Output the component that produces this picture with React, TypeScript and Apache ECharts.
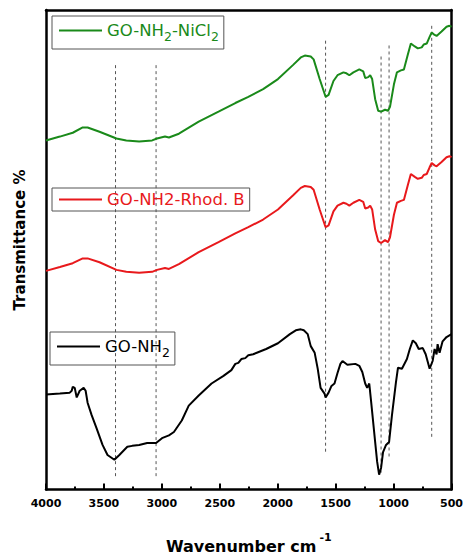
import React, { useEffect, useRef } from "react";
import * as echarts from "echarts";

// Wavenumbers (cm-1) sampled for the two upper spectra
const wnUpper = [4000, 3880, 3769, 3683, 3641, 3538, 3392, 3307, 3196, 3084, 3042, 2973, 2939, 2853, 2682, 2511, 2366, 2254, 2126, 1998, 1869, 1801, 1766, 1715, 1690, 1638, 1587, 1561, 1519, 1484, 1433, 1407, 1382, 1347, 1296, 1262, 1245, 1219, 1202, 1185, 1159, 1133, 1108, 1074, 1048, 1031, 997, 971, 937, 911, 877, 851, 817, 791, 757, 740, 714, 689, 671, 646, 629, 586, 543, 518, 500];
const tNiCl2 = [72.8, 73.6, 74.4, 75.5, 75.5, 74.6, 73.2, 72.8, 72.6, 72.8, 73.2, 73.6, 73.4, 74.2, 76.7, 78.8, 80.6, 81.9, 83.5, 85.6, 88.5, 90.1, 90.5, 90.3, 89.7, 85.6, 81.9, 82.3, 85.2, 86.4, 87.0, 86.8, 86.4, 87.0, 87.6, 87.2, 85.8, 86.0, 86.4, 85.6, 81.4, 79.0, 78.8, 79.2, 79.0, 79.8, 84.5, 87.0, 87.4, 87.6, 90.7, 93.0, 92.4, 92.0, 92.2, 92.8, 93.0, 94.4, 95.3, 94.8, 94.6, 95.5, 96.5, 96.7, 96.5];
const tRhodB = [45.6, 46.4, 47.2, 48.2, 48.2, 47.4, 45.8, 45.4, 45.2, 45.4, 45.8, 46.2, 46.0, 47.0, 49.5, 51.6, 53.4, 54.7, 56.3, 58.4, 61.3, 62.9, 63.3, 63.1, 62.5, 58.4, 54.7, 55.1, 58.0, 59.2, 59.8, 59.6, 59.2, 59.8, 60.4, 60.0, 58.6, 58.8, 59.2, 58.4, 54.2, 51.8, 51.4, 52.0, 51.6, 52.6, 57.3, 59.8, 60.2, 60.4, 63.5, 65.8, 65.2, 64.8, 65.0, 65.6, 65.8, 67.2, 68.1, 67.6, 67.4, 68.3, 69.3, 69.5, 69.3];

// GO-NH2 spectrum
const wnNH2 = [4000, 3880, 3795, 3778, 3769, 3752, 3735, 3709, 3675, 3658, 3641, 3606, 3564, 3512, 3469, 3410, 3367, 3298, 3256, 3196, 3127, 3050, 2999, 2939, 2896, 2828, 2768, 2682, 2571, 2468, 2400, 2366, 2340, 2314, 2280, 2254, 2212, 2100, 1998, 1895, 1844, 1801, 1775, 1741, 1715, 1681, 1655, 1630, 1596, 1587, 1561, 1536, 1510, 1484, 1459, 1441, 1399, 1330, 1296, 1270, 1245, 1228, 1210, 1193, 1159, 1142, 1125, 1108, 1091, 1065, 1039, 1014, 980, 962, 928, 885, 860, 834, 808, 783, 748, 723, 689, 663, 646, 629, 620, 603, 577, 543, 500];
const tNH2 = [19.8, 20.0, 20.2, 20.6, 21.4, 21.2, 19.2, 20.6, 21.2, 20.6, 18.1, 15.5, 12.8, 9.3, 7.2, 6.2, 7.2, 8.9, 9.1, 9.3, 9.7, 9.7, 10.7, 11.3, 12.0, 14.4, 17.5, 19.6, 22.1, 23.7, 24.9, 26.2, 26.4, 27.2, 27.4, 28.0, 28.2, 29.3, 30.5, 32.4, 33.2, 33.4, 33.2, 32.4, 29.9, 28.5, 25.2, 21.2, 20.0, 19.2, 20.2, 21.6, 22.1, 24.3, 26.2, 26.8, 26.0, 26.2, 25.8, 24.5, 22.1, 21.2, 22.1, 18.1, 9.9, 5.8, 3.1, 4.5, 7.8, 9.3, 9.9, 15.5, 22.3, 25.4, 25.2, 27.2, 29.3, 31.1, 30.5, 29.3, 29.5, 28.2, 25.2, 26.8, 29.3, 28.2, 30.3, 28.5, 30.9, 31.8, 32.4];

// Reference (dashed) lines: wavenumber, top value, bottom value
const refWn = [3400, 3050, 1587, 1108, 1039, 671];
const refTop = [88.5, 88.5, 93.6, 90.3, 92.6, 96.7];
const refBottom = [2.5, 2.5, 7.6, 3.5, 6.6, 10.7];

const xTicks = [4000, 3500, 3000, 2500, 2000, 1500, 1000, 500];

const FONT = "'Comic Sans MS', 'DejaVu Sans', sans-serif";

export default function App() {
  const ref = useRef<HTMLDivElement>(null);
  useEffect(() => {
    if (!ref.current) return;
    const chart = echarts.init(ref.current, undefined, { renderer: "svg" });
    const pair = (xs: number[], ys: number[]) => xs.map((x, i) => [x, ys[i]]);
    const refSeries = refWn.map((w, i) => ({
      name: "ref" + i,
      type: "line",
      data: [[w, refTop[i]], [w, refBottom[i]]],
      symbol: "none",
      silent: true,
      z: 1,
      lineStyle: { color: "#555", width: 1, type: [3, 3] },
    }));
    const legendBase = (name: string, left: number, top: number, color: string, fmt: string, padV: number) => ({
      data: [name],
      left,
      top,
      orient: "horizontal",
      selectedMode: false,
      icon: "rect",
      itemWidth: 43,
      itemHeight: 2,
      itemGap: 0,
      itemStyle: { color },
      padding: [padV, 5, padV, 7],
      borderColor: "#555",
      borderWidth: 1,
      formatter: () => fmt,
      textStyle: {
        color,
        fontFamily: FONT,
        fontSize: 16.5,
        rich: {
          n: { color, fontFamily: FONT, fontSize: 16.5 },
          sub: { color, fontFamily: FONT, fontSize: 12.5, padding: [12, 0, 0, 0] },
        },
      },
    });
    const option = {
      animation: false,
      backgroundColor: "#fff",
      grid: { left: 46, right: 11, top: 10, bottom: 64, containLabel: false },
      legend: [
        legendBase("GO-NH2-NiCl2", 52, 16, "#1a8a1a", "{n|GO-NH}{sub|2}{n|-NiCl}{sub|2}", 6),
        legendBase("GO-NH2-Rhod. B", 52, 188, "#e8191c", "{n|GO-NH2-Rhod. B}", 3),
        legendBase("GO-NH2", 50, 332, "#000", "{n|GO-NH}{sub|2}", 6),
      ],
      xAxis: [
        {
          type: "value",
          inverse: true,
          min: 500,
          max: 4000,
          interval: 500,
          position: "bottom",
          name: "{a|Wavenumber cm}{s|-1}",
          nameLocation: "middle",
          nameGap: 42,
          nameTextStyle: {
            rich: {
              a: { fontFamily: FONT, fontWeight: "bold", fontSize: 16, color: "#000", padding: [6, 0, 0, 0] },
              s: { fontFamily: FONT, fontWeight: "bold", fontSize: 11, color: "#000", padding: [0, 0, 12, 3] },
            },
          },
          axisLine: { show: true, lineStyle: { color: "#000", width: 2.5 } },
          axisTick: { show: true, inside: true, length: 6, lineStyle: { color: "#000", width: 2 } },
          minorTick: { show: true, splitNumber: 2, length: 3, lineStyle: { color: "#000", width: 2 } },
          axisLabel: {
            show: true,
            color: "#000",
            fontFamily: FONT,
            fontWeight: "bold",
            fontSize: 11,
            margin: 8,
            showMinLabel: true,
            showMaxLabel: true,
            formatter: (v: number) => (xTicks.includes(v) ? String(v) : ""),
          },
          splitLine: { show: false },
        },
        {
          type: "value",
          inverse: true,
          min: 500,
          max: 4000,
          position: "top",
          axisLine: { show: true, onZero: false, lineStyle: { color: "#000", width: 2.5 } },
          axisTick: { show: false },
          axisLabel: { show: false },
          splitLine: { show: false },
        },
      ],
      yAxis: [
        {
          type: "value",
          min: 0,
          max: 100,
          position: "left",
          axisLine: { show: true, onZero: false, lineStyle: { color: "#000", width: 2.5 } },
          axisTick: { show: false },
          axisLabel: { show: false },
          splitLine: { show: false },
        },
        {
          type: "value",
          min: 0,
          max: 100,
          position: "right",
          axisLine: { show: true, onZero: false, lineStyle: { color: "#000", width: 2.5 } },
          axisTick: { show: false },
          axisLabel: { show: false },
          splitLine: { show: false },
        },
      ],
      graphic: [
        {
          type: "text",
          x: 20,
          y: 240,
          rotation: Math.PI / 2,
          style: {
            text: "Transmittance %",
            fontFamily: FONT,
            fontWeight: "bold",
            fontSize: 15,
            fill: "#000",
            textAlign: "center",
            textVerticalAlign: "middle",
          },
        },
      ],
      series: [
        ...refSeries,
        {
          name: "GO-NH2-NiCl2",
          type: "line",
          data: pair(wnUpper, tNiCl2),
          symbol: "none",
          z: 3,
          lineStyle: { color: "#1a8a1a", width: 2 },
          itemStyle: { color: "#1a8a1a" },
        },
        {
          name: "GO-NH2-Rhod. B",
          type: "line",
          data: pair(wnUpper, tRhodB),
          symbol: "none",
          z: 3,
          lineStyle: { color: "#e8191c", width: 2 },
          itemStyle: { color: "#e8191c" },
        },
        {
          name: "GO-NH2",
          type: "line",
          data: pair(wnNH2, tNH2),
          symbol: "none",
          z: 3,
          lineStyle: { color: "#000", width: 2 },
          itemStyle: { color: "#000" },
        },
      ],
    };
    chart.setOption(option as any);
    return () => chart.dispose();
  }, []);
  return (
    <div
      ref={ref}
      style={{ position: "fixed", left: 0, top: 0, width: 466, height: 559, background: "#fff" }}
    />
  );
}
